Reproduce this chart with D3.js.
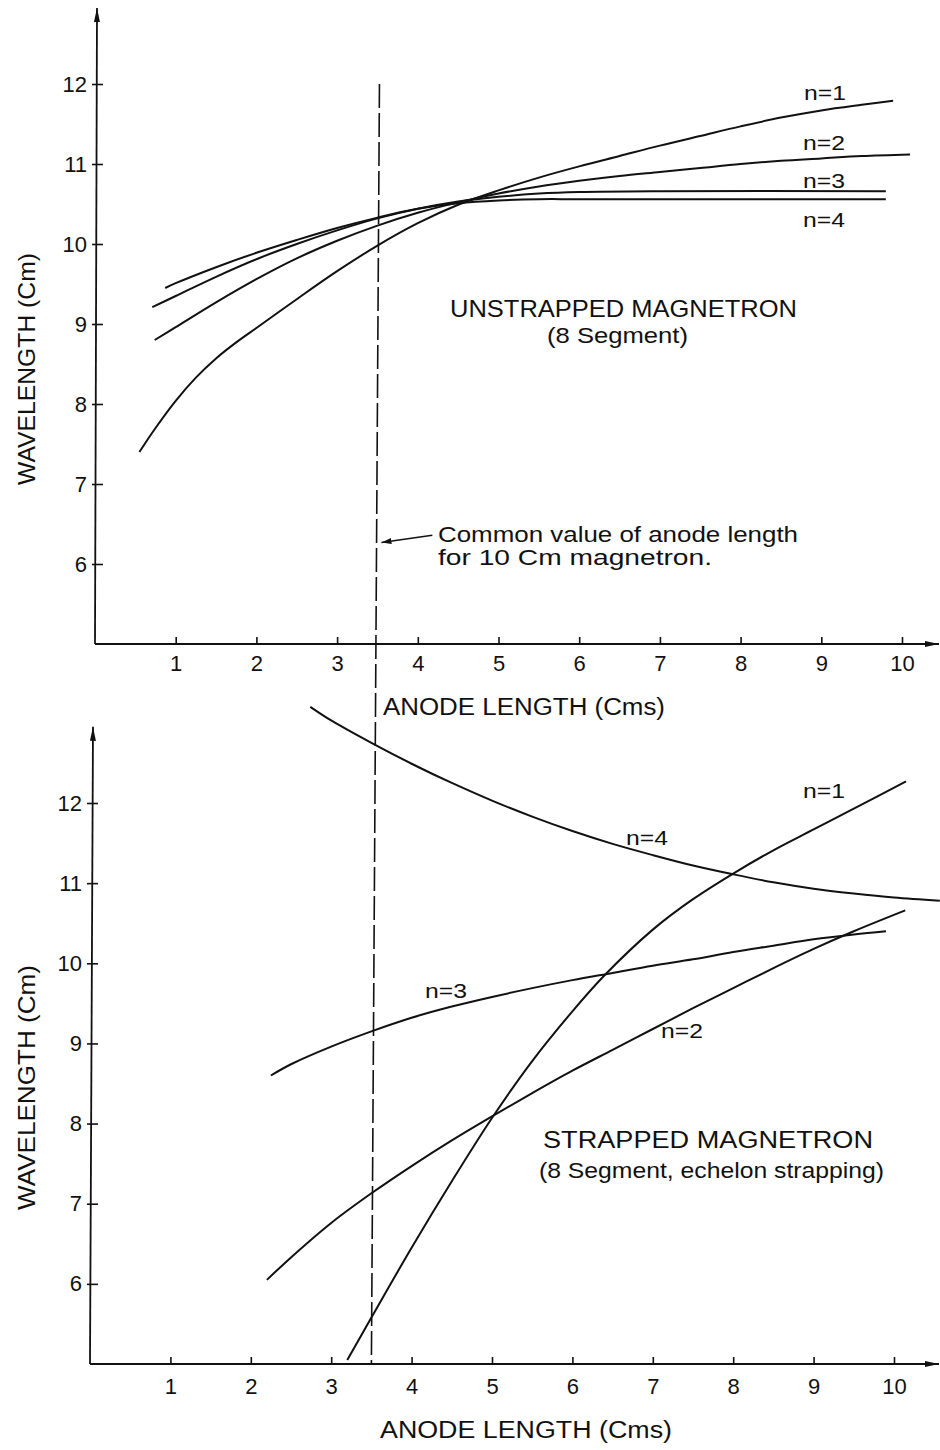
<!DOCTYPE html>
<html><head><meta charset="utf-8">
<script src="https://cdn.jsdelivr.net/npm/d3@7"></script>
<style>
body{margin:0;background:#fff}
svg{display:block}
text{font-family:"Liberation Sans",Arial,sans-serif;fill:#111}
</style>
</head><body>
<svg id="c" width="940" height="1450"></svg>
<script>
// ---------- data ----------
const xTicks = [1,2,3,4,5,6,7,8,9,10];
const yTicks = [6,7,8,9,10,11,12];
const seriesNames = ["n=1","n=2","n=3","n=4"];
const commonAnodeLength = 3.5;

// Unstrapped magnetron (8 segment): [anode length cm, wavelength cm]
const unstrappedN1 = [[0.55,7.4],[0.75,7.7],[1,8.04],[1.25,8.33],[1.5,8.57],[1.75,8.77],[2,8.95],[2.5,9.31],[3,9.66],[3.5,9.98],[4,10.26],[4.5,10.49],[5,10.67],[5.5,10.83],[6,10.97],[6.5,11.1],[7,11.23],[7.5,11.35],[8,11.47],[8.5,11.58],[9,11.67],[9.5,11.74],[9.89,11.79]];
const unstrappedN2 = [[0.74,8.8],[1,8.96],[1.5,9.27],[2,9.56],[2.5,9.82],[3,10.04],[3.5,10.23],[4,10.39],[4.5,10.52],[5,10.63],[5.5,10.72],[6,10.79],[6.5,10.85],[7,10.9],[7.5,10.95],[8,11.0],[8.5,11.04],[9,11.07],[9.5,11.1],[10.1,11.12]];
const unstrappedN3 = [[0.71,9.21],[1,9.35],[1.5,9.59],[2,9.81],[2.5,10.0],[3,10.17],[3.5,10.32],[4,10.44],[4.5,10.53],[5,10.59],[5.5,10.63],[6,10.65],[7,10.66],[9.8,10.66]];
const unstrappedN4 = [[0.87,9.45],[1,9.51],[1.5,9.71],[2,9.89],[2.5,10.05],[3,10.2],[3.5,10.33],[4,10.44],[4.5,10.51],[5,10.545],[5.5,10.56],[6,10.56],[9.8,10.56]];

// Strapped magnetron (8 segment, echelon strapping)
const strappedN1 = [[3.2,5.05],[3.5,5.58],[4,6.45],[4.5,7.28],[5,8.07],[5.5,8.78],[6,9.4],[6.4,9.85],[7,10.42],[7.5,10.8],[8,11.12],[8.5,11.41],[9,11.67],[9.5,11.93],[10.15,12.27]];
const strappedN2 = [[2.2,6.05],[2.5,6.33],[3,6.76],[3.5,7.13],[4,7.47],[4.5,7.79],[5,8.09],[5.5,8.38],[6,8.66],[6.5,8.92],[7,9.18],[7.5,9.44],[8,9.69],[8.5,9.94],[9,10.18],[9.5,10.4],[10.14,10.66]];
const strappedN3 = [[2.25,8.6],[2.5,8.74],[3,8.96],[3.5,9.15],[4,9.32],[4.5,9.46],[5,9.58],[5.5,9.69],[6,9.79],[6.5,9.88],[7,9.97],[7.5,10.05],[8,10.14],[8.5,10.22],[9,10.3],[9.5,10.36],[9.9,10.4]];
const strappedN4 = [[2.74,13.2],[3,13.03],[3.5,12.75],[4,12.49],[4.5,12.25],[5,12.03],[5.5,11.83],[6,11.65],[6.5,11.49],[7,11.35],[7.5,11.22],[8,11.11],[8.5,11.01],[9,10.93],[9.5,10.87],[10,10.82],[10.57,10.78]];

// ---------- drawing ----------
const W = 940, H = 1450;
const svg = d3.select("#c");
const defs = svg.append("defs");
defs.append("marker").attr("id","arr")
  .attr("viewBox","0 0 14 6").attr("refX",14).attr("refY",3)
  .attr("markerWidth",14).attr("markerHeight",6)
  .attr("markerUnits","userSpaceOnUse").attr("orient","auto")
  .append("path").attr("d","M0,0 L14,3 L0,6 Z").attr("fill","#111");
defs.append("marker").attr("id","arrSmall")
  .attr("viewBox","0 0 10 6").attr("refX",10).attr("refY",3)
  .attr("markerWidth",10).attr("markerHeight",6)
  .attr("markerUnits","userSpaceOnUse").attr("orient","auto")
  .append("path").attr("d","M0,0 L10,3 L0,6 Z").attr("fill","#111");

function addText(g, str, x, y, size, len, opts = {}) {
  const t = g.append("text").attr("x", x).attr("y", y)
    .attr("font-size", size).text(str);
  if (len) t.attr("textLength", len).attr("lengthAdjust", "spacingAndGlyphs");
  if (opts.anchor) t.attr("text-anchor", opts.anchor);
  if (opts.transform) t.attr("transform", opts.transform);
  return t;
}

function panel(cfg) {
  const g = svg.append("g");
  const x = d3.scaleLinear().domain([0, 10]).range(cfg.xRange);
  const y = d3.scaleLinear().domain([5, 12]).range(cfg.yRange);

  g.append("line").attr("x1", x(0)).attr("y1", y(5)).attr("x2", x(0) + cfg.ySlant).attr("y2", y(12.95))
    .attr("stroke", "#111").attr("stroke-width", 1.8).attr("marker-end", "url(#arr)");
  g.append("line").attr("x1", x(0)).attr("y1", y(5)).attr("x2", W - 1).attr("y2", y(5))
    .attr("stroke", "#111").attr("stroke-width", 1.8).attr("marker-end", "url(#arr)");

  const ya = g.append("g").attr("transform", `translate(${x(0)},0)`)
    .call(d3.axisLeft(y).tickValues(yTicks).tickSize(-8).tickPadding(8).tickFormat(d3.format("d")));
  ya.select(".domain").remove();
  ya.selectAll(".tick line").attr("x1", -3).attr("stroke", "#111").attr("stroke-width", 1.6);
  ya.selectAll(".tick text").attr("font-size", 22).attr("font-family", null).attr("fill", "#111");

  const xa = g.append("g").attr("transform", `translate(0,${y(5)})`)
    .call(d3.axisBottom(x).tickValues(xTicks).tickSize(-7).tickPadding(cfg.xPad).tickFormat(d3.format("d")));
  xa.select(".domain").remove();
  xa.selectAll(".tick line").attr("y1", 1).attr("stroke", "#111").attr("stroke-width", 1.6);
  xa.selectAll(".tick text").attr("font-size", 22).attr("font-family", null).attr("fill", "#111");

  const line = d3.line().x(d => x(d[0])).y(d => y(d[1])).curve(d3.curveCatmullRom.alpha(0.5));
  cfg.series.forEach(s => {
    g.append("path").attr("d", line(s)).attr("fill", "none")
      .attr("stroke", "#111").attr("stroke-width", 2);
  });
  cfg.labels.forEach((l, i) => addText(g, seriesNames[i], l[0], l[1], 20, 42));
  return { g, x, y };
}

const topP = panel({
  xRange: [95, 902], yRange: [644, 84], ySlant: 2, xPad: 11,
  series: [unstrappedN1, unstrappedN2, unstrappedN3, unstrappedN4],
  labels: [[804, 100], [803, 150], [803, 188], [803, 227]]
});
const botP = panel({
  xRange: [90, 894], yRange: [1364, 803], ySlant: 3, xPad: 14,
  series: [strappedN1, strappedN2, strappedN3, strappedN4],
  labels: [[803, 798], [661, 1038], [425, 998], [626, 845]]
});

svg.append("line")
  .attr("x1", topP.x(commonAnodeLength) + 2).attr("y1", topP.y(12))
  .attr("x2", botP.x(commonAnodeLength)).attr("y2", botP.y(5))
  .attr("stroke", "#111").attr("stroke-width", 1.6).attr("stroke-dasharray", "24,5");

svg.append("line")
  .attr("x1", topP.x(4.18)).attr("y1", topP.y(6.36))
  .attr("x2", topP.x(commonAnodeLength) + 4).attr("y2", topP.y(6.27))
  .attr("stroke", "#111").attr("stroke-width", 1.5).attr("marker-end", "url(#arrSmall)");

const ann = svg.append("g");
addText(ann, "Common value of anode length", 438, 542, 22, 360);
addText(ann, "for 10 Cm magnetron.", 438, 565, 22, 274);
addText(ann, "UNSTRAPPED  MAGNETRON", 450, 317, 24, 347);
addText(ann, "(8 Segment)", 547, 343, 22, 141);
addText(ann, "STRAPPED  MAGNETRON", 543, 1148, 23, 330);
addText(ann, "(8 Segment, echelon  strapping)", 539, 1178, 22, 345);

addText(ann, "ANODE  LENGTH  (Cms)", 383, 715, 23, 282);
addText(ann, "ANODE  LENGTH  (Cms)", 380, 1438, 23, 292);
addText(ann, "WAVELENGTH  (Cm)", 0, 0, 24, 232, { transform: "translate(35,485) rotate(-90)" });
addText(ann, "WAVELENGTH  (Cm)", 0, 0, 24, 245, { transform: "translate(35,1210) rotate(-90)" });
</script>
</body></html>
